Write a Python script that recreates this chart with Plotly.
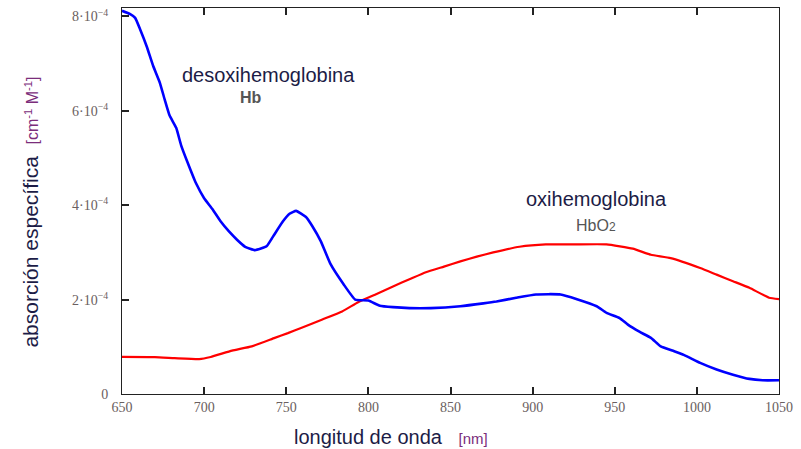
import plotly.graph_objects as go

# wavelength [nm] and specific absorption (units of 1e-4 cm^-1 M^-1)
hb_wl = [650, 655, 658, 661, 665, 669, 673, 676, 679, 683, 686, 690, 695, 700, 705, 710, 715, 720, 725, 731,
         738, 742, 748, 752, 756, 762, 766, 771, 777, 785, 792, 800, 807, 815, 825, 838, 856, 870, 878, 890,
         902, 917, 927, 939, 945, 953, 958, 965, 972, 978, 985, 992, 1002, 1012, 1022, 1032, 1040, 1050]
hb_abs = [8.12, 8.05, 7.97, 7.73, 7.37, 6.95, 6.6, 6.24, 5.9, 5.64, 5.27, 4.9, 4.47, 4.15, 3.92, 3.66, 3.45, 3.27, 3.12, 3.05,
          3.13, 3.34, 3.66, 3.82, 3.88, 3.75, 3.55, 3.24, 2.75, 2.32, 2.0, 1.98, 1.87, 1.84, 1.82, 1.82, 1.86, 1.92, 1.96, 2.04,
          2.11, 2.11, 2.01, 1.86, 1.72, 1.61, 1.47, 1.32, 1.19, 1.01, 0.92, 0.83, 0.66, 0.52, 0.41, 0.32, 0.29, 0.29]

hbo2_wl = [650, 670, 682, 697, 704, 717, 729, 743, 751, 759, 772, 784, 794, 805, 815, 825, 835, 846, 856, 866,
           876, 892, 908, 925, 945, 961, 972, 984, 1002, 1012, 1022, 1032, 1044, 1050]
hbo2_abs = [0.785, 0.78, 0.76, 0.74, 0.785, 0.92, 1.01, 1.19, 1.29, 1.40, 1.58, 1.75, 1.95, 2.12, 2.28, 2.43, 2.58, 2.70, 2.81, 2.91,
            3.0, 3.12, 3.17, 3.17, 3.17, 3.08, 2.95, 2.88, 2.67, 2.53, 2.39, 2.25, 2.04, 2.01]

x_ticks = [650, 700, 750, 800, 850, 900, 950, 1000, 1050]
y_ticks = [0, 2, 4, 6, 8]
y_ticktext = ["0", "2·10<sup>−4</sup>", "4·10<sup>−4</sup>", "6·10<sup>−4</sup>", "8·10<sup>−4</sup>"]

fig = go.Figure()
fig.add_trace(go.Scatter(x=hbo2_wl, y=hbo2_abs, mode="lines",
                         line=dict(color="#ff0000", width=2.2, shape="spline", smoothing=0.4),
                         showlegend=False, hoverinfo="skip"))
fig.add_trace(go.Scatter(x=hb_wl, y=hb_abs, mode="lines",
                         line=dict(color="#0000ff", width=2.6, shape="spline", smoothing=0.4),
                         showlegend=False, hoverinfo="skip"))

tickfont = dict(family="Liberation Serif, DejaVu Serif, serif", size=14, color="#6a6060")
fig.update_xaxes(range=[650, 1050], tickvals=x_ticks, ticktext=[str(v) for v in x_ticks],
                 showgrid=False, zeroline=False, showline=True, linecolor="#222222", linewidth=1,
                 mirror="ticks", ticks="inside", ticklen=7, tickcolor="#222222", tickwidth=1.5,
                 tickfont=tickfont)
fig.update_yaxes(range=[0, 8.18], tickvals=y_ticks, ticktext=y_ticktext,
                 showgrid=False, zeroline=False, showline=True, linecolor="#222222", linewidth=1,
                 mirror=True, ticks="inside", ticklen=7, tickcolor="#222222", tickwidth=1.5,
                 tickfont=tickfont, ticklabelstandoff=10)

sans = "Liberation Sans, Arial, sans-serif"
dark = "#1c1c46"
purple = "#7b2d7b"
fig.add_annotation(x=738.9, y=6.77, text="desoxihemoglobina", showarrow=False,
                   font=dict(family=sans, size=20, color=dark))
fig.add_annotation(x=728.5, y=6.28, text="<b>Hb</b>", showarrow=False,
                   font=dict(family=sans, size=16, color="#555555"))
fig.add_annotation(x=938.6, y=4.14, text="oxihemoglobina", showarrow=False,
                   font=dict(family=sans, size=20, color=dark))
fig.add_annotation(x=938.6, y=3.57, text="HbO<span style='font-size:12px'>2</span>", showarrow=False,
                   font=dict(family=sans, size=16, color="#555555"))

fig.add_annotation(xref="paper", yref="paper", x=-0.1385, y=0.47, textangle=-90,
                   xanchor="center", yanchor="middle", showarrow=False,
                   text="absorción específica  <span style='color:%s;font-size:16px'>[cm<sup>-1</sup> M<sup>-1</sup>]</span>" % purple,
                   font=dict(family=sans, size=21, color=dark))
fig.add_annotation(xref="paper", yref="paper", x=0.409, y=-0.1115,
                   xanchor="center", yanchor="middle", showarrow=False,
                   text="longitud de onda   <span style='color:%s;font-size:15px'>[nm]</span>" % purple,
                   font=dict(family=sans, size=20, color=dark))

fig.update_layout(width=801, height=449, margin=dict(l=122, r=22, t=8, b=55),
                  paper_bgcolor="white", plot_bgcolor="white")

fig.write_html("out.html")
